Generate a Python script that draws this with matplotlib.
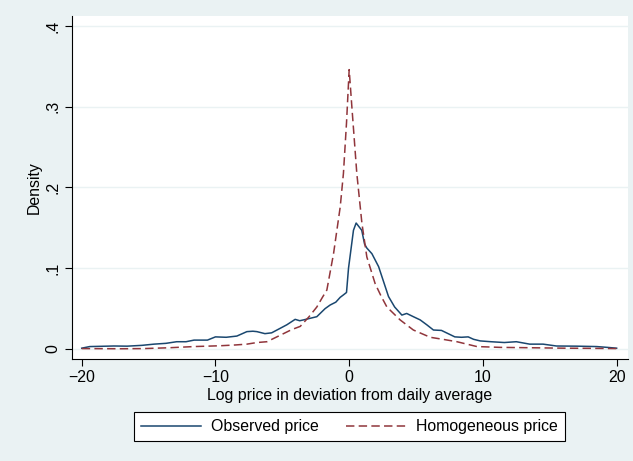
import numpy as np
import matplotlib.pyplot as plt

# Datos (densidades kernel)
obs_x = [-20, -19.4, -17.6, -16.6, -15.5, -14.6, -13.7, -12.9, -12.2, -11.6,
         -10.6, -10, -9.2, -8.4, -7.65, -7.2, -6.9, -6.3, -5.8, -5.16,
         -4.66, -4.04, -3.7, -3.42, -2.92, -2.42, -1.8, -1.42, -1.0, -0.67,
         -0.43, -0.2, -0.05, 0.32, 0.52, 0.94, 1.15, 1.32, 1.7, 2.2,
         2.6, 2.94, 3.4, 3.94, 4.3, 4.8, 5.31, 5.8, 6.3, 6.9,
         7.4, 7.9, 8.4, 8.9, 9.3, 9.8, 10.6, 11.6, 12.5, 13.5,
         14.5, 15.5, 17.0, 18.5, 19.3, 20]
obs_y = [0.001, 0.003, 0.0037, 0.0035, 0.0045, 0.006, 0.007, 0.009, 0.009, 0.011,
         0.011, 0.015, 0.0145, 0.016, 0.0215, 0.022, 0.0215, 0.019, 0.020, 0.0256,
         0.030, 0.0367, 0.035, 0.036, 0.038, 0.040, 0.050, 0.0545, 0.058, 0.064,
         0.067, 0.070, 0.100, 0.147, 0.156, 0.147, 0.130, 0.125, 0.118, 0.102,
         0.082, 0.065, 0.052, 0.042, 0.044, 0.040, 0.036, 0.030, 0.0235, 0.023,
         0.019, 0.015, 0.0145, 0.015, 0.012, 0.010, 0.009, 0.008, 0.009, 0.006,
         0.006, 0.0037, 0.0035, 0.003, 0.002, 0.001]

hom_x = [-20, -17, -15.4, -13.5, -11.6, -9.65, -8.5, -7.65, -6.9, -6.15,
         -5.16, -4.3, -3.66, -3.0, -2.42, -2.0, -1.67, -1.17, -0.67, -0.43,
         -0.2, 0, 0.2, 0.57, 0.95, 1.32, 1.94, 2.4, 2.82, 3.81,
         4.8, 6.06, 7.0, 8.06, 9.55, 11.3, 13.8, 16, 18, 20]
hom_y = [0.0005, 0.0003, 0.0005, 0.0015, 0.003, 0.004, 0.005, 0.006, 0.008, 0.009,
         0.017, 0.024, 0.028, 0.040, 0.052, 0.064, 0.073, 0.118, 0.176, 0.2175,
         0.280, 0.346, 0.300, 0.2175, 0.156, 0.114, 0.081, 0.065, 0.052, 0.036,
         0.0235, 0.0145, 0.012, 0.009, 0.003, 0.002, 0.0015, 0.001, 0.0008, 0.0005]

xticks = [-20, -10, 0, 10, 20]
yticks = [0, 0.1, 0.2, 0.3, 0.4]
ytick_labels = ['0', '.1', '.2', '.3', '.4']

fondo = '#EAF2F3'
azul = '#1A476F'
rojo = '#90353B'
fs = 11.4

plt.rcParams['font.family'] = ['Liberation Sans', 'DejaVu Sans']
plt.rcParams['font.size'] = fs

fig = plt.figure(figsize=(6.33, 4.61), dpi=100, facecolor=fondo)
ax = fig.add_axes([71.7 / 633, 1 - 359 / 461, (628 - 71.7) / 633, (359 - 16) / 461])
ax.set_facecolor('white')

ax.plot(obs_x, obs_y, color=azul, lw=1.1, label='Observed price')
ax.plot(hom_x, hom_y, color=rojo, lw=1.1, dashes=(5.5, 2.8), label='Homogeneous price')

ax.set_xlim(-20.75, 20.85)
ax.set_ylim(-0.0124, 0.4124)
ax.set_xticks(xticks)
ax.set_yticks(yticks)
ax.set_yticklabels(ytick_labels, rotation=90, va='center')
ax.grid(axis='y', color=fondo, lw=1)
ax.set_axisbelow(True)
for s in ['top', 'right']:
    ax.spines[s].set_visible(False)
ax.tick_params(length=5, width=0.8, labelsize=fs, pad=3)

ax.set_xlabel('Log price in deviation from daily average', fontsize=fs, labelpad=2)
ax.set_ylabel('Density', fontsize=fs, labelpad=3)

leg = fig.legend(loc='center', ncol=2, bbox_to_anchor=(349.5 / 633, 1 - 426.7 / 461),
                 fancybox=False, edgecolor='black', framealpha=1,
                 handlelength=3.8, handletextpad=0.63, columnspacing=1.75,
                 fontsize=fs, borderpad=0.45)
leg.get_frame().set_linewidth(0.8)

plt.savefig('out.png', dpi=100, facecolor=fondo)
plt.close()
